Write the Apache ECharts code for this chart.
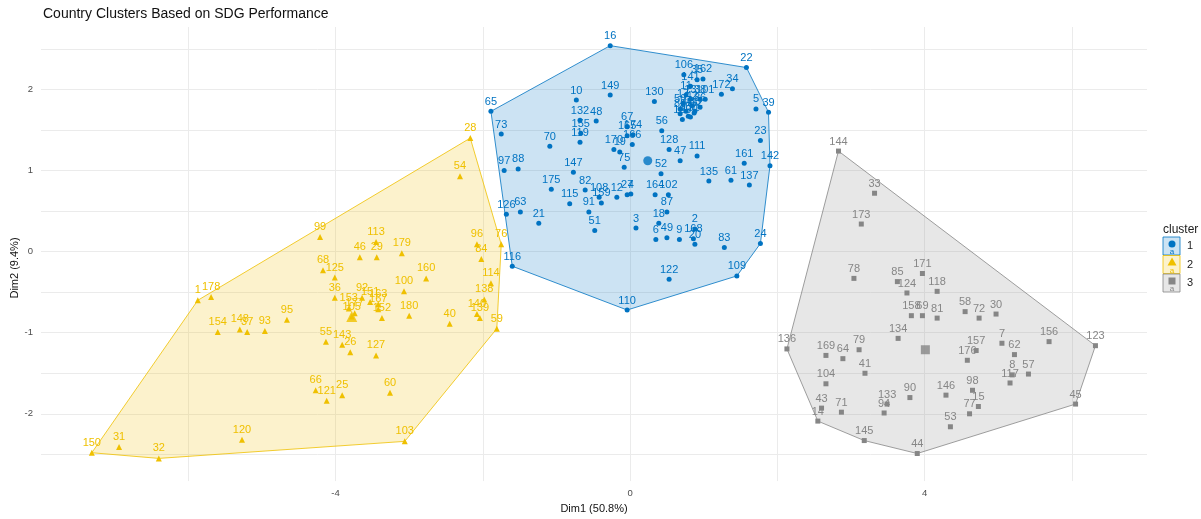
<!DOCTYPE html>
<html>
<head>
<meta charset="utf-8">
<script src="https://cdn.jsdelivr.net/npm/echarts@6/dist/echarts.min.js"></script>
<style>
  html, body { margin: 0; padding: 0; background: #ffffff; }
  #chart { width: 1201px; height: 519px; }
</style>
</head>
<body>
<div id="chart"></div>
<script>
// Cluster 1 (countries, Dim1 / Dim2 scores)
const c1Labels = [16,149,10,65,132,48,155,119,73,70,170,19,67,174,165,166,75,97,88,147,175,82,115,108,159,12,27,4,91,51,126,63,21,3,116,110,52,47,111,161,142,135,61,137,164,102,87,18,6,49,9,2,168,20,83,24,109,122,22,34,172,130,56,128,5,39,23,101,106,35,162,141,11,13,17,38,42,50,74,80,86,89,107,112,129,131];
const c1X = [-0.27,-0.27,-0.73,-1.89,-0.68,-0.46,-0.67,-0.68,-1.75,-1.09,-0.22,-0.14,-0.04,0.04,-0.04,0.03,-0.08,-1.71,-1.52,-0.77,-1.07,-0.61,-0.82,-0.42,-0.39,-0.18,-0.04,0.01,-0.56,-0.48,-1.68,-1.49,-1.24,0.08,-1.60,-0.04,0.42,0.68,0.91,1.55,1.90,1.07,1.37,1.62,0.34,0.52,0.50,0.39,0.35,0.50,0.67,0.88,0.86,0.88,1.28,1.77,1.45,0.53,1.58,1.39,1.24,0.33,0.43,0.53,1.71,1.88,1.77,1.02,0.73,0.91,0.99,0.82,0.76,0.82,0.72,0.95,0.84,0.68,0.76,0.88,0.95,0.68,0.79,0.87,0.71,0.82];
const c1Y = [2.54,1.93,1.87,1.73,1.62,1.61,1.46,1.35,1.45,1.30,1.26,1.23,1.54,1.44,1.43,1.32,1.04,1.00,1.02,0.98,0.77,0.76,0.59,0.67,0.60,0.67,0.70,0.71,0.49,0.26,0.46,0.49,0.35,0.29,-0.18,-0.72,0.96,1.12,1.18,1.09,1.06,0.87,0.88,0.82,0.70,0.70,0.49,0.35,0.15,0.17,0.15,0.28,0.16,0.09,0.05,0.10,-0.30,-0.34,2.27,2.01,1.94,1.85,1.49,1.26,1.76,1.72,1.37,1.88,2.18,2.12,2.13,2.04,1.93,1.88,1.83,1.88,1.80,1.76,1.73,1.73,1.78,1.70,1.67,1.71,1.63,1.66];

// Cluster 2
const c2Labels = [1,178,154,148,37,93,95,66,120,150,31,32,28,54,99,113,46,29,179,96,76,84,68,125,160,100,114,138,36,92,153,151,163,167,105,177,152,180,40,140,139,59,55,143,26,127,121,25,60,103];
const c2X = [-5.87,-5.69,-5.60,-5.30,-5.20,-4.96,-4.66,-4.27,-5.27,-7.31,-6.94,-6.40,-2.17,-2.31,-4.21,-3.45,-3.67,-3.44,-3.10,-2.08,-1.75,-2.02,-4.17,-4.01,-2.77,-3.07,-1.89,-1.98,-4.01,-3.64,-3.82,-3.53,-3.42,-3.42,-3.78,-3.74,-3.37,-3.00,-2.45,-2.08,-2.04,-1.81,-4.13,-3.91,-3.80,-3.45,-4.12,-3.91,-3.26,-3.06];
const c2Y = [-0.60,-0.56,-0.99,-0.96,-0.99,-0.98,-0.84,-1.71,-2.32,-2.48,-2.41,-2.55,1.40,0.93,0.18,0.12,-0.07,-0.07,-0.02,0.09,0.09,-0.09,-0.23,-0.32,-0.33,-0.49,-0.39,-0.59,-0.57,-0.57,-0.70,-0.62,-0.65,-0.71,-0.80,-0.76,-0.82,-0.79,-0.89,-0.77,-0.82,-0.95,-1.11,-1.15,-1.24,-1.28,-1.84,-1.77,-1.74,-2.34];

// Cluster 3
const c3Labels = [144,33,173,78,85,171,124,118,158,69,81,58,72,30,134,136,169,64,79,41,104,43,14,71,133,94,90,146,53,145,44,7,156,123,157,176,62,8,117,57,98,15,77,45];
const c3X = [2.83,3.32,3.14,3.04,3.63,3.97,3.76,4.17,3.82,3.97,4.17,4.55,4.74,4.97,3.64,2.13,2.66,2.89,3.11,3.19,2.66,2.60,2.55,2.87,3.49,3.45,3.80,4.29,4.35,3.18,3.90,5.05,5.69,6.32,4.70,4.58,5.22,5.19,5.16,5.41,4.65,4.73,4.61,6.05];
const c3Y = [1.24,0.72,0.34,-0.33,-0.37,-0.27,-0.51,-0.49,-0.79,-0.79,-0.82,-0.74,-0.82,-0.77,-1.07,-1.20,-1.28,-1.32,-1.21,-1.50,-1.63,-1.93,-2.09,-1.98,-1.88,-1.99,-1.80,-1.77,-2.16,-2.33,-2.49,-1.13,-1.11,-1.16,-1.22,-1.34,-1.27,-1.52,-1.62,-1.51,-1.71,-1.91,-2.00,-1.88];

// Cluster centres
const centreX = [0.24, -3.78, 4.01];
const centreY = [1.12, -0.80, -1.21];

// Axis ticks
const xGridValues = [-6, -4, -2, 0, 2, 4, 6];
const xTickLabels = [-4, 0, 4];
const yGridValues = [-2.5, -2, -1.5, -1, -0.5, 0, 0.5, 1, 1.5, 2, 2.5];
const yTickLabels = [-2, -1, 0, 1, 2];

const clusterNames = ['1', '2', '3'];
const colors = ['#0073C2', '#EFC000', '#868686'];
const fills = ['rgba(0,115,194,0.2)', 'rgba(239,192,0,0.2)', 'rgba(134,134,134,0.2)'];
const symbols = ['circle', 'triangle', 'rect'];
const symbolSizes = [5, 6, 5];
const FONT = '"Liberation Sans", Arial, sans-serif';

// Andrew's monotone chain convex hull
function convexHull(pts) {
  const p = pts.slice().sort((a, b) => a[0] - b[0] || a[1] - b[1]);
  const cross = (o, a, b) => (a[0] - o[0]) * (b[1] - o[1]) - (a[1] - o[1]) * (b[0] - o[0]);
  const lower = [];
  for (const q of p) {
    while (lower.length >= 2 && cross(lower[lower.length - 2], lower[lower.length - 1], q) <= 0) lower.pop();
    lower.push(q);
  }
  const upper = [];
  for (let i = p.length - 1; i >= 0; i--) {
    const q = p[i];
    while (upper.length >= 2 && cross(upper[upper.length - 2], upper[upper.length - 1], q) <= 0) upper.pop();
    upper.push(q);
  }
  upper.pop(); lower.pop();
  return lower.concat(upper);
}

const clusters = [
  { labels: c1Labels, xs: c1X, ys: c1Y },
  { labels: c2Labels, xs: c2X, ys: c2Y },
  { labels: c3Labels, xs: c3X, ys: c3Y }
];

const series = [];
clusters.forEach((c, k) => {
  const hull = convexHull(c.xs.map((x, i) => [x, c.ys[i]]));
  series.push({
    type: 'custom',
    name: 'hull' + k,
    silent: true,
    z: 1,
    data: [[c.xs[0], c.ys[0]]],
    renderItem: (params, api) => ({
      type: 'polygon',
      shape: { points: hull.map(pt => api.coord(pt)) },
      style: { fill: fills[k], stroke: colors[k], lineWidth: 0.8 }
    })
  });
});
clusters.forEach((c, k) => {
  series.push({
    type: 'scatter',
    name: clusterNames[k],
    z: 3,
    symbol: symbols[k],
    symbolSize: symbolSizes[k],
    itemStyle: { color: colors[k], opacity: 1 },
    data: c.xs.map((x, i) => [x, c.ys[i], c.labels[i]]),
    label: {
      show: true,
      position: 'top',
      distance: 1.5,
      formatter: p => String(p.data[2]),
      color: colors[k],
      fontSize: 11,
      fontFamily: FONT
    },
    labelLayout: { hideOverlap: false }
  });
});
series.push({
  type: 'scatter',
  name: 'centres',
  z: 4,
  data: centreX.map((x, i) => ({
    value: [x, centreY[i]],
    symbol: symbols[i],
    symbolSize: i === 1 ? 11 : 9,
    itemStyle: { color: colors[i] }
  }))
});

// Legend keys: filled box, marker and text key
const legendGraphics = [{
  type: 'text', left: 1163, top: 224,
  style: { text: 'cluster', fontSize: 12, fontFamily: FONT, fill: '#222' }
}];
clusterNames.forEach((name, i) => {
  const top = 237 + i * 18.5;
  const cx = 1172, cy = top + 9;
  legendGraphics.push({
    type: 'rect', shape: { x: 1163, y: top, width: 17, height: 18 },
    style: { fill: fills[i], stroke: colors[i], lineWidth: 0.8 }
  });
  let marker;
  if (i === 0) marker = { type: 'circle', shape: { cx: cx, cy: cy - 2, r: 3.5 } };
  else if (i === 1) marker = { type: 'polygon', shape: { points: [[cx, cy - 7], [cx - 4.5, cy + 1], [cx + 4.5, cy + 1]] } };
  else marker = { type: 'rect', shape: { x: cx - 3.5, y: cy - 5.5, width: 7, height: 7 } };
  marker.style = { fill: colors[i] };
  legendGraphics.push(marker);
  legendGraphics.push({
    type: 'text', x: cx, y: cy + 6,
    style: { text: 'a', fontSize: 8, fontFamily: FONT, fill: colors[i], align: 'center', verticalAlign: 'middle' }
  });
  legendGraphics.push({
    type: 'text', x: 1187, y: cy,
    style: { text: name, fontSize: 11, fontFamily: FONT, fill: '#222', verticalAlign: 'middle' }
  });
});

// Vertical axis title
legendGraphics.push({
  type: 'text', x: 15, y: 268, rotation: Math.PI / 2,
  style: { text: 'Dim2 (9.4%)', fontSize: 11, fontFamily: FONT, fill: '#111', align: 'center', verticalAlign: 'middle' }
});

const chart = echarts.init(document.getElementById('chart'), null, { renderer: 'canvas' });
chart.setOption({
  animation: false,
  backgroundColor: '#ffffff',
  title: {
    text: 'Country Clusters Based on SDG Performance',
    left: 38, top: 2,
    textStyle: { fontSize: 14, fontWeight: 'normal', fontFamily: FONT, color: '#111' }
  },
  grid: { left: 41, right: 54, top: 27, height: 459 },
  xAxis: {
    type: 'value',
    min: -8.0, max: 7.02,
    name: 'Dim1 (50.8%)',
    nameLocation: 'middle',
    nameGap: 21,
    nameTextStyle: { fontSize: 11, fontFamily: FONT, color: '#111' },
    axisLine: { show: false },
    axisTick: { show: false, customValues: xGridValues },
    axisLabel: { customValues: xTickLabels, fontSize: 9.5, fontFamily: FONT, color: '#4d4d4d', margin: 7 },
    splitLine: { show: true, lineStyle: { color: '#ebebeb', width: 1 } }
  },
  yAxis: {
    type: 'value',
    min: -2.83, max: 2.77,
    axisLine: { show: false },
    axisTick: { show: false, customValues: yGridValues },
    axisLabel: { customValues: yTickLabels, fontSize: 9.5, fontFamily: FONT, color: '#4d4d4d', margin: 8 },
    splitLine: { show: true, lineStyle: { color: '#ebebeb', width: 1 } }
  },
  graphic: legendGraphics,
  series: series
});
</script>
</body>
</html>
